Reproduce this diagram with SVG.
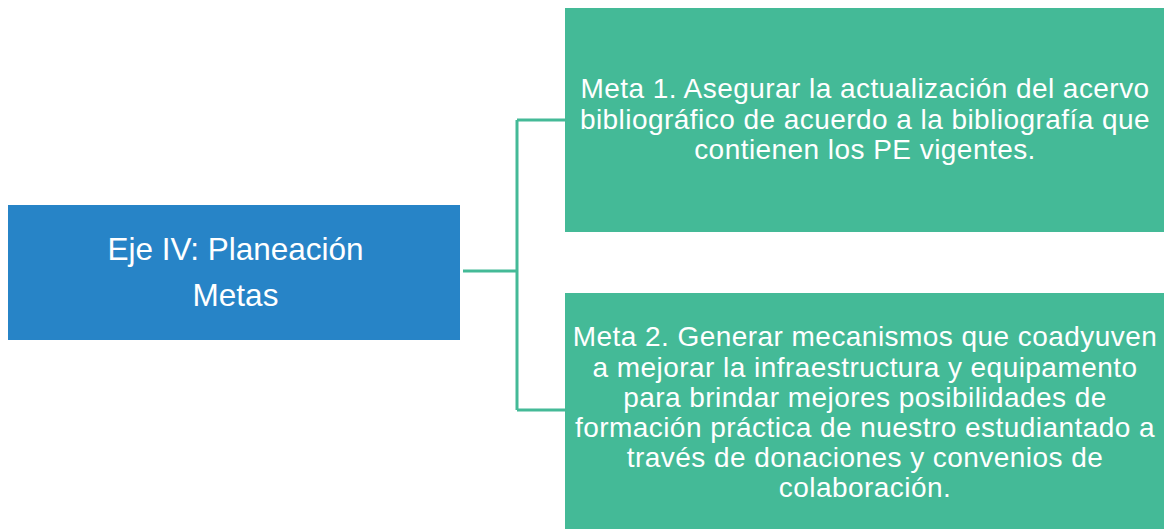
<svg xmlns="http://www.w3.org/2000/svg" width="1164" height="529" viewBox="0 0 1164 529">
<style>
.t{font-family:"Liberation Sans",Arial,sans-serif;fill:#ffffff;text-anchor:middle}
.m{font-size:28px;letter-spacing:0.45px}
.e{font-size:31.5px}
.c{fill:none;stroke:#44BA97;stroke-width:3}
</style>
<rect width="1164" height="529" fill="#ffffff"/>
<g id="connectors">
<path class="c" d="M463,271 H517 M517,120 V410 M517,120 H565 M517,410 H565"/>
</g>
<g id="eje">
<rect x="8" y="205" width="452" height="135" fill="#2784C7"/>
<text class="t e" x="235.5" y="260">Eje IV: Planeación</text>
<text class="t e" x="235.5" y="306">Metas</text>
</g>
<g id="meta1">
<rect x="565" y="8" width="610" height="224" fill="#44BA97"/>
<text class="t m" x="865" y="98">Meta 1. Asegurar la actualización del acervo</text>
<text class="t m" x="865" y="128.5">bibliográfico de acuerdo a la bibliografía que</text>
<text class="t m" x="865" y="158.5">contienen los PE vigentes.</text>
</g>
<g id="meta2">
<rect x="565" y="293" width="610" height="250" fill="#44BA97"/>
<text class="t m" x="865" y="346">Meta 2. Generar mecanismos que coadyuven</text>
<text class="t m" x="865" y="376.5">a mejorar la infraestructura y equipamento</text>
<text class="t m" x="865" y="407">para brindar mejores posibilidades de</text>
<text class="t m" x="865" y="437">formación práctica de nuestro estudiantado a</text>
<text class="t m" x="865" y="467">través de donaciones y convenios de</text>
<text class="t m" x="865" y="497">colaboración.</text>
</g>
</svg>
